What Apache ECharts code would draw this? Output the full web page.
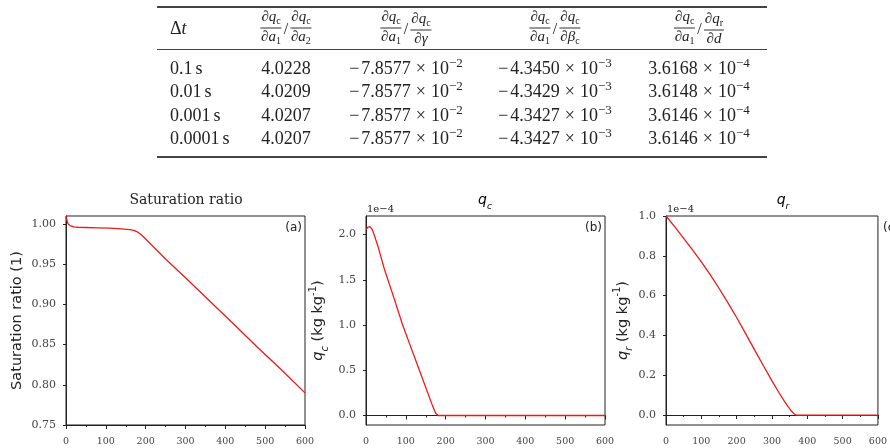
<!DOCTYPE html>
<html>
<head>
<meta charset="utf-8">
<script src="https://cdn.jsdelivr.net/npm/echarts@6/dist/echarts.min.js"></script>
<style>
  html, body { margin: 0; padding: 0; background: #fff; }
  #chart { position: absolute; left: 0; top: 0; width: 890px; height: 448px; }
  #tbl { position: absolute; left: 0; top: 0; width: 890px; height: 165px; z-index: 2;
         font-family: 'Liberation Serif', 'Times New Roman', serif; color: #222; font-size: 18px; }
  .rule { position: absolute; left: 157px; width: 610px; background: #444; }
  .cell { position: absolute; white-space: nowrap; transform: translate(-50%, -50%); line-height: 1; }
  .cell.left { transform: translate(0, -50%); }
  .fr { display: inline-flex; flex-direction: column; align-items: center; vertical-align: middle;
        font-size: 15px; line-height: 13px; }
  .fr .n { border-bottom: 1px solid #333; padding: 0 1px 1px; }
  .fr .d { padding-top: 1px; }
  .sl { font-size: 16px; margin: 0 2px; vertical-align: middle; }
  sub { font-size: 10px; vertical-align: -3px; font-style: normal; }
  sup { font-size: 13px; vertical-align: 7px; line-height: 0; }
  .x { margin: 0 5px; }
  .neg { margin-right: 2px; }
</style>
</head>
<body>
<div id="tbl"></div>
<div id="chart"></div>
<script>
// table values
var dtLabels = ['0.1', '0.01', '0.001', '0.0001'];
var ratioA2 = ['4.0228', '4.0209', '4.0207', '4.0207'];
var ratioGamma = ['−7.8577', '−7.8577', '−7.8577', '−7.8577'];
var ratioBeta = ['−4.3450', '−4.3429', '−4.3427', '−4.3427'];
var ratioD = ['3.6168', '3.6148', '3.6146', '3.6146'];
var expGamma = '−2', expBeta = '−3', expD = '−4';

// saturation ratio (a)
var satTime = [0, 2, 5, 10, 15, 20, 30, 50, 80, 110, 140, 160, 170, 176, 182, 188, 195, 250, 300, 360, 420, 480, 540, 600];
var satVal = [1.010, 1.005, 1.0005, 0.998, 0.997, 0.9965, 0.996, 0.9957, 0.9953, 0.9948, 0.9940, 0.9931, 0.9921, 0.9910, 0.9893, 0.9870, 0.9838, 0.9566, 0.9332, 0.9046, 0.876, 0.847, 0.819, 0.790];

// q_c, units of 1e-4 (b)
var qcTime = [0, 2, 4, 6, 8, 10, 12, 15, 18, 30, 46, 70, 92, 113, 134, 155, 166, 172, 175, 178, 181, 600];
var qcVal = [2.05, 2.065, 2.08, 2.088, 2.09, 2.088, 2.08, 2.06, 2.03, 1.87, 1.62, 1.30, 1.0, 0.75, 0.5, 0.25, 0.12, 0.055, 0.025, 0.007, 0.0, 0.0];

// q_r, units of 1e-4 (c)
var qrTime = [0, 25, 50, 75, 100, 125, 150, 175, 200, 225, 250, 275, 300, 320, 335, 345, 355, 362, 368, 600];
var qrVal = [1.0, 0.945, 0.888, 0.83, 0.77, 0.705, 0.637, 0.565, 0.49, 0.41, 0.33, 0.25, 0.172, 0.112, 0.07, 0.044, 0.02, 0.007, 0.0, 0.0];

var xTicks = [0, 100, 200, 300, 400, 500, 600];
var satTicks = [0.75, 0.80, 0.85, 0.90, 0.95, 1.00];
var qcTicks = [0, 0.5, 1.0, 1.5, 2.0];
var qrTicks = [0, 0.2, 0.4, 0.6, 0.8, 1.0];

// ---- table ----
function frac(num, den) {
  return '<span class="fr"><span class="n">' + num + '</span><span class="d">' + den + '</span></span>';
}
var dqc = '∂<i>q</i><sub>c</sub>';
var da1 = '∂<i>a</i><sub>1</sub>';
var sl = '<span class="sl">/</span>';
var headers = [
  'Δ<i>t</i>',
  frac(dqc, da1) + sl + frac(dqc, '∂<i>a</i><sub>2</sub>'),
  frac(dqc, da1) + sl + frac(dqc, '∂<i>γ</i>'),
  frac(dqc, da1) + sl + frac(dqc, '∂<i>β</i><sub>c</sub>'),
  frac(dqc, da1) + sl + frac('∂<i>q</i><sub>r</sub>', '∂<i>d</i>')
];
var colX = [170, 286, 406, 555, 699];
var rowY = [68, 91, 115, 138];

function sci(m, e) {
  var s = m;
  if (m.charAt(0) === '−') s = '<span class="neg">−</span>' + m.slice(1);
  return s + '<span class="x">×</span>10<sup>' + e + '</sup>';
}

var html = '';
html += '<div class="rule" style="top:6px;height:2px"></div>';
html += '<div class="rule" style="top:49px;height:1.2px"></div>';
html += '<div class="rule" style="top:156px;height:2px"></div>';
for (var c = 0; c < headers.length; c++) {
  html += '<div class="cell' + (c === 0 ? ' left' : '') + '" style="left:' + colX[c] + 'px;top:28px">' + headers[c] + '</div>';
}
for (var r = 0; r < dtLabels.length; r++) {
  var vals = [dtLabels[r] + '<span style="margin-left:3px">s</span>', ratioA2[r],
    sci(ratioGamma[r], expGamma), sci(ratioBeta[r], expBeta), sci(ratioD[r], expD)];
  for (var c2 = 0; c2 < vals.length; c2++) {
    html += '<div class="cell' + (c2 === 0 ? ' left' : '') + '" style="left:' + colX[c2] + 'px;top:' + rowY[r] + 'px">' + vals[c2] + '</div>';
  }
}
document.getElementById('tbl').innerHTML = html;

// ---- charts ----
var chart = echarts.init(document.getElementById('chart'));

function pairs(xs, ys) {
  var out = [];
  for (var i = 0; i < xs.length; i++) out.push([xs[i], ys[i]]);
  return out;
}

var frameColor = '#222';
var labelColor = '#444';
var serif = 'DejaVu Serif';
var sans = 'DejaVu Sans';

var nameRich = {
  q: { fontFamily: sans, fontStyle: 'italic', fontSize: 14.5, color: '#222', padding: [3, 0, 4, 0], verticalAlign: 'top' },
  s: { fontFamily: sans, fontStyle: 'italic', fontSize: 10, color: '#222', lineHeight: 10, verticalAlign: 'bottom' },
  t: { fontFamily: sans, fontSize: 14.5, color: '#222', padding: [3, 0, 4, 0], verticalAlign: 'top' },
  p: { fontFamily: sans, fontSize: 10, color: '#222', lineHeight: 10, verticalAlign: 'top' }
};

function xAxisFor(idx) {
  return {
    gridIndex: idx, type: 'value', min: 0, max: 600, interval: 100,
    axisLine: { show: true, lineStyle: { color: frameColor, width: 1 } },
    axisTick: { show: true, length: 4, lineStyle: { color: frameColor } },
    minorTick: { show: true, splitNumber: 2, length: 2, lineStyle: { color: frameColor } },
    splitLine: { show: false },
    axisLabel: { show: true, margin: 12, fontFamily: serif, fontSize: 9.5, color: labelColor,
      customValues: xTicks, formatter: function (v) { return String(Math.round(v)); } }
  };
}

function yAxisFor(idx, min, max, ticks, digits, name, gap) {
  return {
    gridIndex: idx, type: 'value', min: min, max: max,
    name: name, nameLocation: 'middle', nameRotate: 90, nameGap: gap,
    nameTextStyle: { fontFamily: sans, fontSize: 14.5, color: '#222', rich: nameRich },
    axisLine: { show: true, lineStyle: { color: frameColor, width: 1 } },
    axisTick: { show: true, length: 3, customValues: ticks, lineStyle: { color: frameColor } },
    splitLine: { show: false },
    axisLabel: { show: true, margin: 10, fontFamily: serif, fontSize: 11, color: labelColor,
      customValues: ticks, formatter: function (v) { return v.toFixed(digits); } }
  };
}

function lineSeries(idx, xs, ys) {
  return {
    type: 'line', xAxisIndex: idx, yAxisIndex: idx, data: pairs(xs, ys),
    showSymbol: false, smooth: false, clip: true,
    lineStyle: { color: '#f01818', width: 1.3 }
  };
}

function subText(x, y, main, sub) {
  return {
    type: 'text', x: x, y: y,
    style: {
      text: '{q|' + main + '}{s|' + sub + '}', align: 'center', verticalAlign: 'middle',
      rich: {
        q: { fontFamily: sans, fontStyle: 'italic', fontSize: 14, color: '#222', padding: [0, 0, 4, 0], verticalAlign: 'top' },
        s: { fontFamily: sans, fontStyle: 'italic', fontSize: 9, color: '#222', lineHeight: 9, verticalAlign: 'bottom' }
      }
    }
  };
}

function plainText(x, y, txt, font, size, align) {
  return {
    type: 'text', x: x, y: y,
    style: { text: txt, fontFamily: font, fontSize: size, fill: '#222', align: align, verticalAlign: 'middle' }
  };
}

var option = {
  backgroundColor: '#fff',
  animation: false,
  grid: [
    { left: 66, top: 216, width: 239, height: 209, show: true, borderColor: frameColor, borderWidth: 1, backgroundColor: 'transparent' },
    { left: 366, top: 216, width: 239, height: 209, show: true, borderColor: frameColor, borderWidth: 1, backgroundColor: 'transparent' },
    { left: 666, top: 216, width: 240, height: 209, show: true, borderColor: frameColor, borderWidth: 1, backgroundColor: 'transparent' }
  ],
  xAxis: [xAxisFor(0), xAxisFor(1), xAxisFor(2)],
  yAxis: [
    yAxisFor(0, 0.75, 1.01, satTicks, 2, 'Saturation ratio (1)', 41),
    yAxisFor(1, -0.105, 2.205, qcTicks, 1, '{q|q}{s|c}{t| (kg kg}{p|-1}{t|)}', 36),
    yAxisFor(2, -0.05, 1.0, qrTicks, 1, '{q|q}{s|r}{t| (kg kg}{p|-1}{t|)}', 29)
  ],
  series: [
    lineSeries(0, satTime, satVal),
    lineSeries(1, qcTime, qcVal),
    lineSeries(2, qrTime, qrVal)
  ],
  graphic: [
    plainText(186, 200, 'Saturation ratio', serif, 14, 'center'),
    subText(485, 202, 'q', 'c'),
    subText(783, 202, 'q', 'r'),
    plainText(367, 209, '1e−4', serif, 10, 'left'),
    plainText(667, 209, '1e−4', serif, 10, 'left'),
    plainText(302, 228, '(a)', sans, 12, 'right'),
    plainText(602, 228, '(b)', sans, 12, 'right'),
    plainText(899, 228, '(c)', sans, 12, 'right')
  ]
};
chart.setOption(option);
</script>
</body>
</html>
